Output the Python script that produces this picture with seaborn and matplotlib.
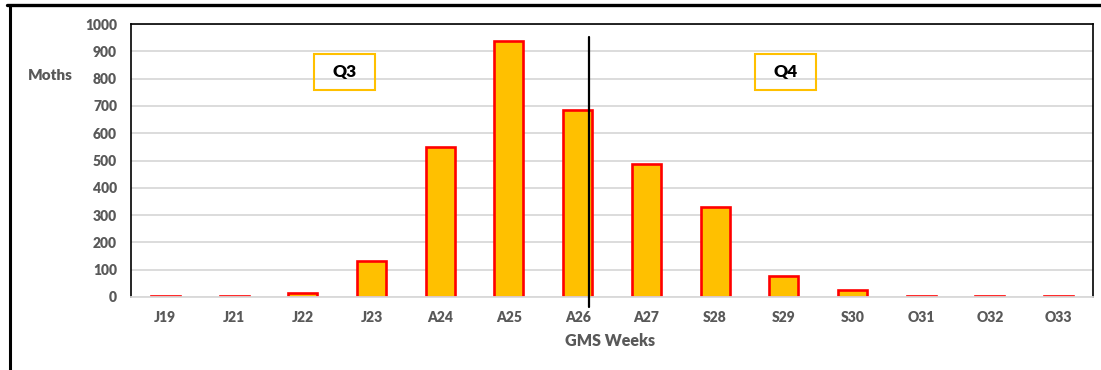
import matplotlib
matplotlib.use("Agg")
import matplotlib.pyplot as plt
from matplotlib.patches import Rectangle
from matplotlib.lines import Line2D
import seaborn as sns
import pandas as pd

# Weekly moth counts by GMS week
weeks = ["J19", "J21", "J22", "J23", "A24", "A25", "A26",
         "A27", "S28", "S29", "S30", "O31", "O32", "O33"]
moths = [3, 3, 15, 132, 549, 938, 685, 487, 330, 77, 25, 5, 2, 2]

y_ticks = [0, 100, 200, 300, 400, 500, 600, 700, 800, 900, 1000]
quarter_labels = ["Q3", "Q4"]

df = pd.DataFrame({"week": weeks, "moths": moths})

sns.set_theme(style="white")
plt.rcParams["font.family"] = ["Lato", "DejaVu Sans"]

W, H = 1101, 370
fig = plt.figure(figsize=(W / 100, H / 100), dpi=100)
ax = fig.add_axes([131 / W, (H - 297) / H, (1093 - 131) / W, (297 - 24) / H])

sns.barplot(data=df, x="week", y="moths", ax=ax, width=0.42,
            color="#FFC000", edgecolor="#FF0000", linewidth=1.9,
            saturation=1)

ax.set_xlim(-0.5, len(weeks) - 0.5)
ax.set_ylim(0, 1000)
ax.set_yticks(y_ticks)
ax.yaxis.grid(True, color="#D9D9D9", linewidth=1.3)
ax.set_axisbelow(True)

for side in ["top", "right", "left"]:
    ax.spines[side].set_color("black")
    ax.spines[side].set_linewidth(1.2)
ax.spines["bottom"].set_color("#D9D9D9")
ax.spines["bottom"].set_linewidth(1.3)

ax.tick_params(axis="both", length=0, labelsize=10, labelcolor="#595959")
ax.tick_params(axis="y", pad=10)
ax.tick_params(axis="x", pad=10)
for lab in ax.get_xticklabels() + ax.get_yticklabels():
    lab.set_fontweight("heavy")
ax.set_xlabel("")
ax.set_ylabel("")

# Quarter divider between A26 and A27
ax.plot([6.17, 6.17], [-37, 952], color="black", linewidth=1.6,
        clip_on=False, zorder=5)

# Quarter boxes
for label, (x0, x1) in zip(quarter_labels, [(2.164, 3.052), (8.583, 9.471)]):
    ax.add_patch(Rectangle((x0, 758), x1 - x0, 132, fill=False,
                           edgecolor="#FFC000", linewidth=1.5, zorder=4))
    ax.text((x0 + x1) / 2, 826, label, ha="center", va="center",
            fontsize=12.5, fontweight="heavy", color="black", zorder=5)

fig.text(50 / W, 1 - 76 / H, "Moths", ha="center", va="center",
         fontsize=11, fontweight="heavy", color="#595959")
fig.text(610 / W, 1 - 341 / H, "GMS Weeks", ha="center", va="center",
         fontsize=11.5, fontweight="heavy", color="#595959")

# Outer frame lines
fig.add_artist(Line2D([7 / W, 1.0], [1 - 5 / H, 1 - 5 / H],
                      color="black", linewidth=2.4))
fig.add_artist(Line2D([9.5 / W, 9.5 / W], [0, 1 - 5 / H],
                      color="black", linewidth=2.2))

fig.savefig("out.png", dpi=100)
